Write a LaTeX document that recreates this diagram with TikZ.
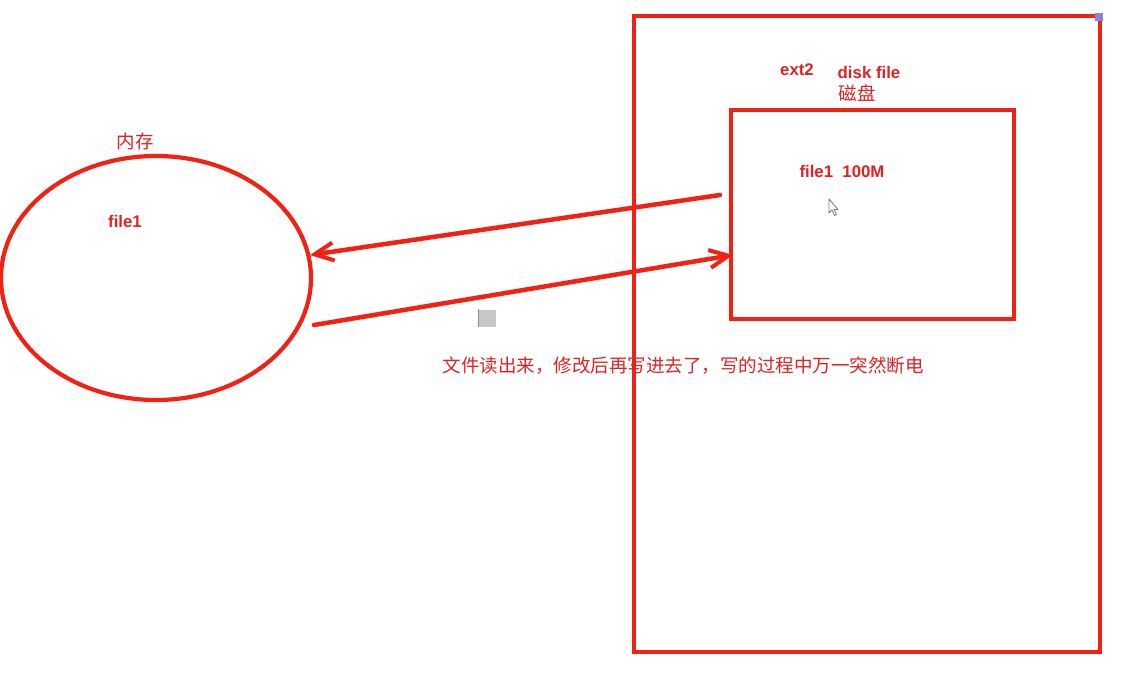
\documentclass[tikz,border=0pt]{standalone}
\usepackage{fontspec}
\setmainfont{Liberation Sans}
\newfontfamily\cjk{Noto Sans CJK SC}
\usetikzlibrary{arrows.meta,shapes.geometric}
\definecolor{pen}{RGB}{243,32,20}
\definecolor{ink}{RGB}{226,34,34}
\definecolor{marker}{RGB}{140,130,215}
\begin{document}
\begin{tikzpicture}[x=1pt,y=-1pt,
  outline/.style={draw=pen,line width=4.2pt,outer sep=0pt},
  flow/.style={draw=pen,line width=4.5pt,line cap=round,
    -{Straight Barb[length=19pt,width=18pt,line width=4pt]}},
  tag/.style={text=ink,font=\bfseries\fontsize{16.8}{19}\selectfont,inner sep=0pt},
  cjktag/.style={text=ink,font=\cjk\fontsize{18.5}{20}\selectfont,inner sep=0pt}]
  % canvas
  \fill[white] (0,0) rectangle (1132,690);
  \useasboundingbox (0,0) rectangle (1132,690);

  % disk area and the file on it
  \draw[outline] (634,16) rectangle (1100,652);
  \node[outline,minimum width=283pt,minimum height=209pt,inner sep=0pt,anchor=north west]
    (disk) at (731,110) {};
  % memory
  \node[outline,ellipse,minimum width=310pt,minimum height=244pt,inner sep=0pt]
    (mem) at (156,278) {};

  % labels
  \node[tag] (ext) at (797,70) {ext2};
  \node[tag] (df) at (869,72) {disk file};
  \node[cjktag] (cipan) at (857,93) {磁盘};
  \node[tag] (f100) at (842,171) {file1\ \ 100M};
  \node[cjktag] (neicun) at (135,141) {内存};
  \node[tag] (fmem) at (125,221) {file1};
  \node[cjktag] (note) at (683,366) {文件读出来，修改后再写进去了，写的过程中万一突然断电};

  % read and write-back paths
  \coordinate (rdA) at (720,195);
  \coordinate (rdB) at (310,255);
  \coordinate (wrA) at (314,325);
  \coordinate (wrB) at (733,255);
  \draw[flow] (rdA) -- (rdB);
  \draw[flow] (wrA) -- (wrB);

  % small grey block
  \node[fill=black!22,minimum size=17pt,inner sep=0pt] (blk) at (487,318) {};
  \draw[black!45,line width=1pt] (blk.north west) -- (blk.south west);

  % corner marker
  \node[fill=marker,minimum size=8pt,inner sep=0pt] (mk) at (1099,17) {};

  % mouse pointer
  \draw[fill=white,draw=black!55,line width=0.8pt,line join=round]
    (829,199) -- (829,213) -- (832,210) -- (834.5,215.5) -- (836.5,214.5)
    -- (834,209.5) -- (838,209.5) -- cycle;
\end{tikzpicture}
\end{document}
